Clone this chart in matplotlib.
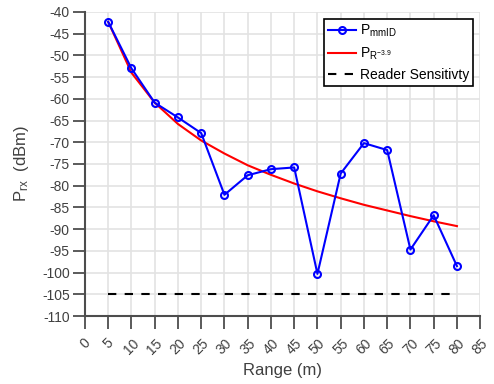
import matplotlib.pyplot as plt

plt.rcParams['font.family'] = ['Liberation Sans', 'DejaVu Sans']
plt.rcParams['mathtext.default'] = 'regular'
plt.rcParams['axes.unicode_minus'] = False

# data
range_m = [5, 10, 15, 20, 25, 30, 35, 40, 45, 50, 55, 60, 65, 70, 75, 80]
p_mmid = [-42.3, -53.0, -60.9, -64.3, -67.9, -82.1, -77.6, -76.2, -75.8,
          -100.3, -77.2, -70.2, -71.8, -94.7, -86.8, -98.5]
p_model = [-42.3, -54.0, -60.9, -65.8, -69.6, -72.6, -75.3, -77.5, -79.5,
           -81.3, -82.9, -84.4, -85.7, -87.0, -88.2, -89.3]
sens_range = [5, 80]
sens_level = [-105, -105]

x_ticks = list(range(0, 90, 5))
y_ticks = list(range(-110, -35, 5))

txt_color = '#404040'

fig = plt.figure(figsize=(4.94, 3.84), dpi=100)
ax = fig.add_axes([0.172, 0.177, 0.800, 0.792])

ax.plot(range_m, p_mmid, color='#0000ff', lw=1.5, marker='o', ms=5,
        mfc='none', mew=1.5, label='$P_{mmID}$', zorder=3)
ax.plot(range_m, p_model, color='#ff0000', lw=1.5, label='$P_{R^{-3.9}}$', zorder=2)
ax.plot(sens_range, sens_level, color='black', lw=1.5, ls=(0, (4, 4)),
        label='Reader Sensitivty', zorder=2)

ax.set_xlim(0, 85)
ax.set_ylim(-110, -40)
ax.set_xticks(x_ticks)
ax.set_yticks(y_ticks)
ax.set_xticklabels([str(t) for t in x_ticks], rotation=45, ha='center', va='top')
ax.tick_params(direction='out', length=9, width=1.3, color='#4d4d4d',
               labelcolor=txt_color, labelsize=10, pad=2)
ax.tick_params(axis='x', pad=5.5)

ax.grid(True, color='#e3e3e3', lw=1.2)
ax.set_axisbelow(True)
for side in ['top', 'right']:
    ax.spines[side].set_visible(False)
for side in ['left', 'bottom']:
    ax.spines[side].set_color('#4d4d4d')
    ax.spines[side].set_linewidth(1.5)

ax.set_xlabel('Range (m)', fontsize=12, color=txt_color, labelpad=4)
ax.set_ylabel('$P_{rx}$  (dBm)', fontsize=12, color=txt_color, labelpad=8)

leg = ax.legend(loc='upper right', fontsize=10, fancybox=False, framealpha=1,
                edgecolor='black', borderpad=0.3, handlelength=2.0,
                handletextpad=0.3, labelspacing=0.45, borderaxespad=0.5)
leg.get_frame().set_linewidth(1.2)

fig.savefig('out.png', dpi=100)
